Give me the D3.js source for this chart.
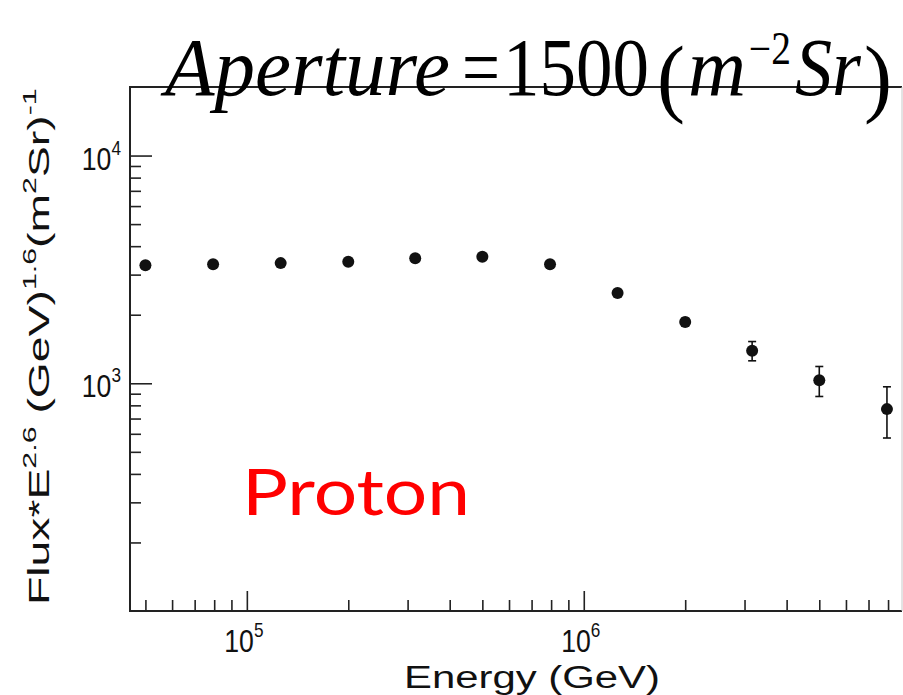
<!DOCTYPE html>
<html>
<head>
<meta charset="utf-8">
<script src="https://cdn.jsdelivr.net/npm/d3@7"></script>
<style>
  html, body { margin: 0; padding: 0; background: #fff; }
  svg { display: block; }
</style>
</head>
<body>
<div id="chart"></div>
<script>
(function () {
  'use strict';

  // --- Data ---
  var energies = [5.0e4, 7.94e4, 1.26e5, 2.0e5, 3.16e5, 5.0e5, 7.94e5, 1.26e6, 2.0e6, 3.16e6, 5.0e6, 7.94e6];
  var flux     = [3300, 3330, 3370, 3420, 3540, 3590, 3330, 2490, 1860, 1390, 1030, 770];
  var fluxErr  = [15, 15, 20, 25, 30, 35, 40, 55, 70, 135, 155, 195];

  var xMajorTicks = [1e5, 1e6];
  var xMinorTicks = [5e4, 6e4, 7e4, 8e4, 9e4, 2e5, 3e5, 4e5, 5e5, 6e5, 7e5, 8e5, 9e5,
                     2e6, 3e6, 4e6, 5e6, 6e6, 7e6, 8e6];
  var xTickExp = ['5', '6'];
  var yMajorTicks = [1e3, 1e4];
  var yMinorTicks = [200, 300, 400, 500, 600, 700, 800, 900,
                     2000, 3000, 4000, 5000, 6000, 7000, 8000, 9000];
  var yTickExp = ['3', '4'];

  var width = 903, height = 695;
  var plot = { left: 130, right: 902, top: 87, bottom: 611 };

  var svg = d3.select('#chart').append('svg')
    .attr('width', width)
    .attr('height', height);

  var x = d3.scaleLog().domain([4.5e4, 8.8e6]).range([plot.left, plot.right]);
  var y = d3.scaleLog().domain([100, 2e4]).range([plot.bottom, plot.top]);

  var sans = "'Liberation Sans', Arial, Helvetica, sans-serif";
  var serif = "'Liberation Serif', 'Times New Roman', serif";

  // --- Frame ---
  svg.append('path')
    .attr('d', 'M' + plot.right + ',' + plot.top + 'H' + plot.left + 'V' + plot.bottom + 'H' + plot.right)
    .attr('fill', 'none')
    .attr('stroke', '#222')
    .attr('stroke-width', 2);
  svg.append('line')
    .attr('x1', plot.right).attr('x2', plot.right)
    .attr('y1', plot.top).attr('y2', plot.bottom)
    .attr('stroke', '#c8c8c8')
    .attr('stroke-width', 1);

  // --- Axes ticks (inward, ROOT style) ---
  function tickAxis(axisFn, scale, values, size, transform) {
    var g = svg.append('g')
      .attr('transform', transform)
      .call(axisFn(scale).tickValues(values).tickSize(-size).tickFormat(''));
    g.select('.domain').remove();
    g.selectAll('.tick line').attr('stroke', '#222').attr('stroke-width', 1.6);
    return g;
  }

  tickAxis(d3.axisBottom, x, xMinorTicks, 11, 'translate(0,' + plot.bottom + ')');
  tickAxis(d3.axisBottom, x, xMajorTicks, 20, 'translate(0,' + plot.bottom + ')');
  tickAxis(d3.axisLeft, y, yMinorTicks, 11, 'translate(' + plot.left + ',0)');
  tickAxis(d3.axisLeft, y, yMajorTicks, 22, 'translate(' + plot.left + ',0)');

  // --- Tick labels 10^n (narrow ROOT-like glyphs) ---
  function powerLabel(px, py, exp, anchor) {
    var g = svg.append('g')
      .attr('transform', 'translate(' + px + ',' + py + ') scale(0.86,1)');
    var t = g.append('text')
      .attr('text-anchor', anchor)
      .attr('font-family', sans)
      .attr('font-size', 31)
      .attr('fill', '#111');
    t.append('tspan').text('10');
    t.append('tspan').attr('dy', -15).attr('font-size', 20).text(exp);
  }

  xMajorTicks.forEach(function (v, i) {
    powerLabel(x(v) - 3, 652, xTickExp[i], 'middle');
  });
  yMajorTicks.forEach(function (v, i) {
    powerLabel(121, y(v) + 14, yTickExp[i], 'end');
  });

  // --- Axis titles ---
  svg.append('text')
    .attr('x', 532)
    .attr('y', 688)
    .attr('text-anchor', 'middle')
    .attr('font-family', sans)
    .attr('font-size', 31)
    .attr('textLength', 256)
    .attr('lengthAdjust', 'spacingAndGlyphs')
    .attr('fill', '#111')
    .text('Energy (GeV)');

  var yg = svg.append('g');
  var yt = yg.append('text')
    .attr('x', 0)
    .attr('y', 0)
    .attr('font-family', sans)
    .attr('font-size', 29)
    .attr('fill', '#111');
  function part(txt) { yt.append('tspan').text(txt); }
  function sup(txt) { yt.append('tspan').attr('dy', -13).attr('font-size', 19).text(txt); }
  function down() { return yt.append('tspan').attr('dy', 13); }
  part('Flux*E');
  sup('2.6');
  down().text('  (GeV)');
  sup('1.6');
  down().text('(m');
  sup('2');
  down().text('Sr)');
  sup('-1');
  var natural = yt.node().getComputedTextLength();
  var sx = 517 / natural;
  yg.attr('transform', 'translate(49,605) rotate(-90) scale(' + sx + ',1)');

  // --- Error bars ---
  var pts = energies.map(function (e, i) {
    return { e: e, f: flux[i], err: fluxErr[i] };
  });

  var eb = svg.append('g').attr('stroke', '#111').attr('stroke-width', 1.6);
  pts.forEach(function (d) {
    var cx = x(d.e);
    var yHi = y(d.f + d.err), yLo = y(d.f - d.err);
    eb.append('line').attr('x1', cx).attr('x2', cx).attr('y1', yHi).attr('y2', yLo);
    eb.append('line').attr('x1', cx - 4).attr('x2', cx + 4).attr('y1', yHi).attr('y2', yHi);
    eb.append('line').attr('x1', cx - 4).attr('x2', cx + 4).attr('y1', yLo).attr('y2', yLo);
  });

  svg.append('g').selectAll('circle')
    .data(pts)
    .join('circle')
    .attr('cx', function (d) { return x(d.e); })
    .attr('cy', function (d) { return y(d.f); })
    .attr('r', 6)
    .attr('fill', '#111');

  // --- "Proton" annotation ---
  svg.append('text')
    .attr('x', 242)
    .attr('y', 515)
    .attr('font-family', 'Lato, "Open Sans", sans-serif')
    .attr('font-size', 64)
    .attr('textLength', 228)
    .attr('lengthAdjust', 'spacingAndGlyphs')
    .attr('fill', '#ff0000')
    .text('Proton');

  // --- Title equation: each piece squeezed into its slot ---
  var title = svg.append('g').attr('font-family', serif).attr('fill', '#000');
  function piece(txt, px, py, size, italic, len) {
    var g = title.append('g');
    var t = g.append('text')
      .attr('font-size', size)
      .attr('font-style', italic ? 'italic' : 'normal')
      .text(txt);
    var s = len ? Math.min(1, len / t.node().getComputedTextLength()) : 1;
    g.attr('transform', 'translate(' + px + ',' + py + ') scale(' + s + ',1)');
  }
  piece('Aperture', 165, 95, 82, true, 285);
  piece('=', 462, 95, 82, false, 38);
  piece('1500', 503, 95, 82, false, 146);
  piece('(', 657, 106, 86, false, 28);
  piece('m', 688, 95, 82, true, 58);
  piece('\u22122', 749, 64, 46, false, 42);
  piece('Sr', 795, 95, 82, true, 66);
  piece(')', 864, 106, 86, false, 28);
})();
</script>
</body>
</html>
